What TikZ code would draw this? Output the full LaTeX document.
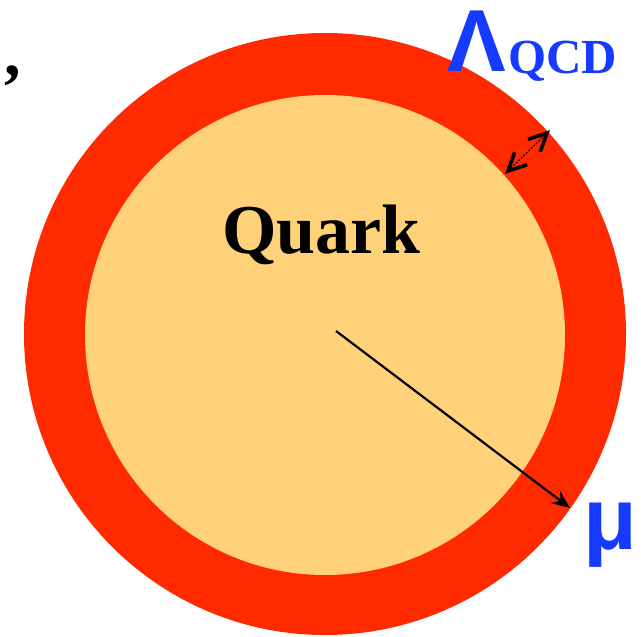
\documentclass[tikz,border=0pt]{standalone}
\usepackage{fontspec}
\setmainfont{Liberation Serif}
\newfontfamily\sansf{Liberation Sans}
\usetikzlibrary{arrows.meta,calc}
\definecolor{ringred}{RGB}{255,42,0}
\definecolor{quarkyellow}{RGB}{255,210,122}
\definecolor{labelblue}{RGB}{22,58,255}
\tikzset{
  lbl/.style={inner sep=0pt, anchor=base west},
  ring/.style={circle, fill=ringred, draw=none, minimum size=602pt, inner sep=0pt},
  core/.style={circle, fill=quarkyellow, draw=none, minimum size=480pt, inner sep=0pt},
  chevron/.style={line width=3.6pt, line join=miter, line cap=butt},
}
\begin{document}
\begin{tikzpicture}[x=1pt,y=-1pt]
\useasboundingbox (0,0) rectangle (641,637);
\node[ring] (outer) at (325,334) {};
\node[core] (inner) at (325,335) {};
\node[lbl, font=\bfseries\fontsize{70}{70}\selectfont] (quark) at (222,253) {Quark};
\node[lbl, font=\bfseries\fontsize{66}{66}\selectfont] (comma) at (4,75) {,};
\node[lbl, text=labelblue, font=\sansf\bfseries\fontsize{88}{88}\selectfont] (lam) at (447,71) {Λ};
\node[lbl, text=labelblue, font=\bfseries\fontsize{49}{49}\selectfont] (qcd) at (508,74) {QCD};
\node[lbl, text=labelblue, font=\sansf\bfseries\fontsize{88}{88}\selectfont] (mu) at (583,549) {μ};
\coordinate (c0) at (336,331);
\coordinate (c1) at (570,508);
\draw[line width=2.2pt, -{Stealth[length=18pt,width=15pt,inset=6pt]}] (c0) -- (c1);
\coordinate (d0) at (508,171);
\coordinate (d1) at (547,133);
\draw[line width=1.1pt, dash pattern=on 2pt off 1.5pt, shorten <=4pt, shorten >=4pt] (d0) -- (d1);
\draw[chevron] ($(d0)!20pt!26:(d1)$) -- (d0) -- ($(d0)!20pt!-26:(d1)$);
\draw[chevron] ($(d1)!20pt!26:(d0)$) -- (d1) -- ($(d1)!20pt!-26:(d0)$);
\end{tikzpicture}
\end{document}
